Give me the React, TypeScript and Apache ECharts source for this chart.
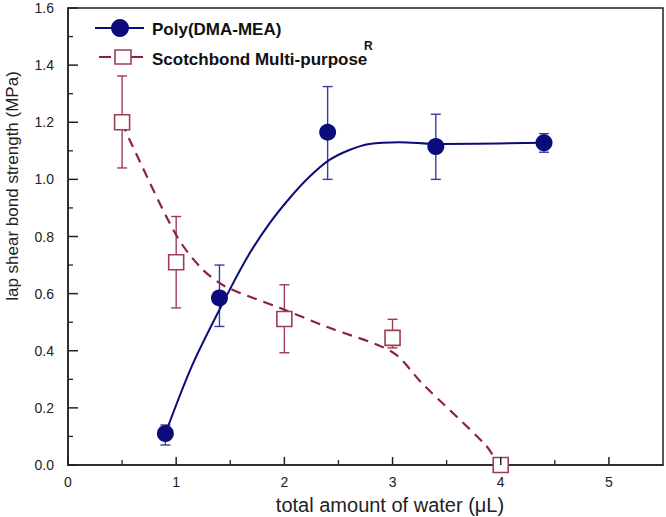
import React, { useEffect, useRef } from 'react';
import * as echarts from 'echarts';

// Poly(DMA-MEA) measured points
const polyX = [0.9, 1.4, 2.4, 3.4, 4.4];
const polyY = [0.11, 0.585, 1.165, 1.115, 1.128];
const polyLow = [0.07, 0.485, 1.0, 1.0, 1.095];
const polyHigh = [0.14, 0.70, 1.325, 1.228, 1.16];
// Scotchbond Multi-purpose measured points
const scotchX = [0.5, 1.0, 2.0, 3.0, 4.0];
const scotchY = [1.2, 0.71, 0.511, 0.445, 0.0];
const scotchLow = [1.04, 0.55, 0.393, 0.41, 0.0];
const scotchHigh = [1.362, 0.87, 0.631, 0.51, 0.0];
// fitted curves
const polyFitX = [0.9, 1.156, 1.494, 1.679, 1.863, 2.048, 2.232, 2.417, 2.601, 2.786, 3.063, 3.4, 4.4];
const polyFitY = [0.11, 0.356, 0.613, 0.741, 0.846, 0.934, 1.009, 1.068, 1.103, 1.124, 1.13, 1.124, 1.128];
const scotchFitX = [0.5, 0.57, 1.0, 1.23, 1.46, 1.96, 2.39, 3.0, 3.27, 3.86, 3.95];
const scotchFitY = [1.2, 1.138, 0.805, 0.69, 0.624, 0.55, 0.484, 0.395, 0.287, 0.07, 0.02];

// axis tick positions
const xMajorTicks = [0, 1, 2, 3, 4, 5];
const xMinorTicks = [0.5, 1.5, 2.5, 3.5, 4.5];
const yMajorTicks = [0, 0.2, 0.4, 0.6, 0.8, 1.0, 1.2, 1.4, 1.6];
const yMinorTicks = [0.1, 0.3, 0.5, 0.7, 0.9, 1.1, 1.3, 1.5];

const seriesNames = ['Poly(DMA-MEA)', 'Scotchbond Multi-purpose'];
const xTitle = 'total amount of water (\u03bcL)';
const yTitle = 'lap shear bond strength (MPa)';

const BLUE = '#0b0b7c';
const BLUE_ERR = '#3a3aa2';
const RED = '#8c2242';
const RED_MARK = '#a03c52';
const AXIS = '#222';

const FONT = '"Liberation Sans", Arial, sans-serif';

function errorSeries(xs: number[], lo: number[], hi: number[], color: string) {
  return {
    type: 'custom',
    xAxisIndex: 0,
    yAxisIndex: 0,
    z: 2,
    clip: false,
    data: xs.map((x, i) => [x, lo[i], hi[i]]),
    renderItem: (params: any, api: any) => {
      const x = api.value(0);
      const a = api.coord([x, api.value(1)]);
      const b = api.coord([x, api.value(2)]);
      const cw = 5;
      const st = { stroke: color, lineWidth: 1.4 };
      return {
        type: 'group',
        children: [
          { type: 'line', shape: { x1: a[0], y1: a[1], x2: b[0], y2: b[1] }, style: st },
          { type: 'line', shape: { x1: a[0] - cw, y1: a[1], x2: a[0] + cw, y2: a[1] }, style: st },
          { type: 'line', shape: { x1: b[0] - cw, y1: b[1], x2: b[0] + cw, y2: b[1] }, style: st },
        ],
      };
    },
  };
}

// inside ticks: dim 0 = x-axis tick, 1 = y-axis tick
function tickSeries(vals: number[], dim: number, len: number, width: number) {
  return {
    type: 'custom',
    xAxisIndex: 0,
    yAxisIndex: 0,
    z: 5,
    clip: false,
    silent: true,
    data: vals.map((v) => (dim === 0 ? [v, 0] : [0, v])),
    renderItem: (params: any, api: any) => {
      const p = api.coord([api.value(0), api.value(1)]);
      const shape = dim === 0
        ? { x1: p[0], y1: p[1], x2: p[0], y2: p[1] - len }
        : { x1: p[0], y1: p[1], x2: p[0] + len, y2: p[1] };
      return { type: 'line', shape, style: { stroke: AXIS, lineWidth: width } };
    },
  };
}

export default function App() {
  const ref = useRef<HTMLDivElement>(null);
  useEffect(() => {
    if (!ref.current) return;
    const chart = echarts.init(ref.current, null, { renderer: 'svg' });
    const axisLine = { show: true, lineStyle: { color: AXIS, width: 1.5 } };
    chart.setOption({
      animation: false,
      backgroundColor: '#fff',
      grid: { left: 68, right: 3, top: 8, bottom: 52, show: true, borderColor: AXIS, borderWidth: 1.5, backgroundColor: 'transparent' },
      xAxis: {
        type: 'value', min: 0, max: 5.5, interval: 1,
        axisLine,
        axisTick: { show: false },
        splitLine: { show: false },
        axisLabel: {
          show: true, color: AXIS, fontSize: 14, fontFamily: FONT, margin: 10,
          formatter: (v: number) => (Number.isInteger(v) ? String(v) : ''),
        },
      },
      yAxis: {
        type: 'value', min: 0, max: 1.6, interval: 0.2,
        axisLine,
        axisTick: { show: false },
        splitLine: { show: false },
        axisLabel: { show: true, color: AXIS, fontSize: 14, fontFamily: FONT, margin: 14, formatter: (v: number) => v.toFixed(1) },
      },
      graphic: [
        {
          type: 'text', x: 12, y: 186, rotation: Math.PI / 2,
          style: { text: yTitle, fontSize: 17, fontFamily: FONT, fill: AXIS, align: 'center', verticalAlign: 'middle' },
        },
        {
          type: 'text', x: 390, y: 505,
          style: { text: xTitle, fontSize: 20, fontFamily: FONT, fill: AXIS, align: 'center', verticalAlign: 'middle' },
        },
        // legend row 1
        { type: 'line', shape: { x1: 95, y1: 28, x2: 144, y2: 28 }, style: { stroke: BLUE, lineWidth: 2 } },
        { type: 'circle', shape: { cx: 120, cy: 28, r: 9 }, style: { fill: BLUE } },
        {
          type: 'text', x: 152, y: 29,
          style: { text: seriesNames[0], fontSize: 17, fontWeight: 'bold', fontFamily: FONT, fill: '#111', verticalAlign: 'middle' },
        },
        // legend row 2
        { type: 'line', shape: { x1: 99, y1: 57, x2: 111, y2: 57 }, style: { stroke: RED, lineWidth: 2 } },
        { type: 'line', shape: { x1: 131, y1: 57, x2: 143, y2: 57 }, style: { stroke: RED, lineWidth: 2 } },
        { type: 'rect', shape: { x: 115, y: 50, width: 16, height: 14 }, style: { fill: '#fff', stroke: RED_MARK, lineWidth: 1.6 } },
        {
          type: 'text', x: 152, y: 59,
          style: { text: seriesNames[1], fontSize: 17, fontWeight: 'bold', fontFamily: FONT, fill: '#111', verticalAlign: 'middle' },
        },
        {
          type: 'text', x: 364, y: 46,
          style: { text: 'R', fontSize: 12, fontWeight: 'bold', fontFamily: FONT, fill: '#111', verticalAlign: 'middle' },
        },
      ],
      series: [
        tickSeries(xMajorTicks, 0, 8, 1.5),
        tickSeries(xMinorTicks, 0, 5, 1.3),
        tickSeries(yMajorTicks, 1, 10, 1.5),
        tickSeries(yMinorTicks, 1, 5, 1.3),
        errorSeries(polyX, polyLow, polyHigh, BLUE_ERR),
        errorSeries(scotchX, scotchLow, scotchHigh, RED_MARK),
        {
          name: seriesNames[0] + ' fit', type: 'line', smooth: 0.3, symbol: 'none', z: 3,
          lineStyle: { color: BLUE, width: 2 },
          data: polyFitX.map((x, i) => [x, polyFitY[i]]),
        },
        {
          name: seriesNames[1] + ' fit', type: 'line', smooth: 0.3, symbol: 'none', z: 3,
          lineStyle: { color: RED, width: 2.2, type: [10, 7] },
          data: scotchFitX.map((x, i) => [x, scotchFitY[i]]),
        },
        {
          name: seriesNames[0], type: 'scatter', symbol: 'circle', symbolSize: 17, z: 4,
          itemStyle: { color: BLUE, opacity: 1 },
          data: polyX.map((x, i) => [x, polyY[i]]),
        },
        {
          name: seriesNames[1], type: 'scatter', symbol: 'rect', symbolSize: 15, z: 4,
          itemStyle: { color: '#fff', borderColor: RED_MARK, borderWidth: 1.6, opacity: 1 },
          data: scotchX.map((x, i) => [x, scotchY[i]]),
        },
      ],
    });
    return () => chart.dispose();
  }, []);
  return <div ref={ref} style={{ width: 666, height: 517, position: 'absolute', left: 0, top: 0 }} />;
}
